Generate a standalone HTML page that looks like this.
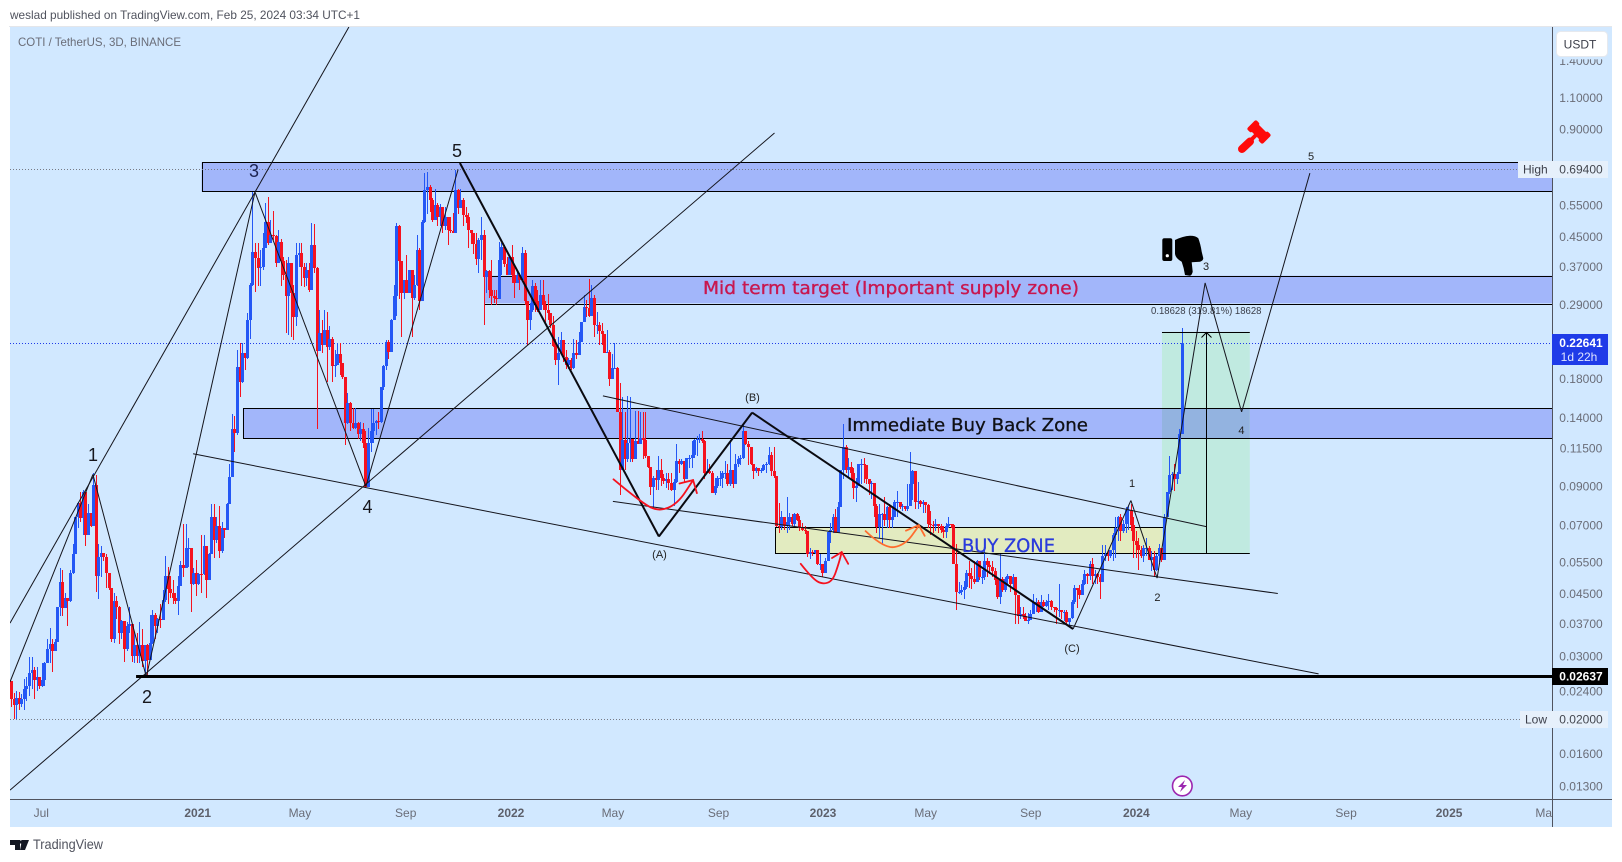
<!DOCTYPE html>
<html lang="en">
<head>
<meta charset="utf-8">
<title>COTI / TetherUS, 3D, BINANCE</title>
<style>
html,body{margin:0;padding:0;background:#fff;width:1622px;height:862px;overflow:hidden}
svg{display:block}
text{font-family:"Liberation Sans",sans-serif}
.dj{font-family:"DejaVu Sans",sans-serif}
</style>
</head>
<body>
<svg id="chart" xmlns="http://www.w3.org/2000/svg" width="1622" height="862" viewBox="0 0 1622 862">
  <defs><clipPath id="plot-clip"><rect x="10" y="27" width="1542" height="772"/></clipPath></defs>
  <rect x="0" y="0" width="1622" height="862" fill="#ffffff"/>
  <text x="10" y="19" font-size="12" fill="#50535e" textLength="350" lengthAdjust="spacingAndGlyphs">weslad published on TradingView.com, Feb 25, 2024 03:34 UTC+1</text>
  <rect x="10" y="27" width="1602" height="800" fill="#d1e8ff"/>
  <line x1="9" y1="26.5" x2="1612" y2="26.5" stroke="#e4e6ea"/>
  <g id="zones" clip-path="url(#plot-clip)"></g>
  <g id="dotted" clip-path="url(#plot-clip)"></g>
  <g id="candles" clip-path="url(#plot-clip)"></g>
  <g id="drawings" clip-path="url(#plot-clip)"></g>

  <text x="18" y="46" font-size="12" fill="#6a6d78" textLength="163" lengthAdjust="spacingAndGlyphs">COTI / TetherUS, 3D, BINANCE</text>

  <text class="dj" x="703" y="294" font-size="18" fill="#c8174f" stroke="#c8174f" stroke-width=".35" textLength="376" lengthAdjust="spacingAndGlyphs">Mid term target (Important supply zone)</text>
  <text class="dj" x="847" y="431" font-size="18" fill="#101014" stroke="#101014" stroke-width=".3" textLength="241" lengthAdjust="spacingAndGlyphs">Immediate Buy Back Zone</text>
  <text class="dj" x="962" y="552" font-size="19" fill="#2a3bdc" stroke="#2a3bdc" stroke-width=".3" textLength="93" lengthAdjust="spacingAndGlyphs">BUY ZONE</text>

  <g font-size="18" fill="#16161c" text-anchor="middle">
    <text x="93" y="461">1</text>
    <text x="147" y="703">2</text>
    <text x="254" y="177" fill="#1c2250">3</text>
    <text x="367.5" y="513">4</text>
    <text x="457" y="157">5</text>
  </g>
  <g font-size="11" fill="#222" text-anchor="middle">
    <text x="659.5" y="558">(A)</text>
    <text x="752.5" y="401">(B)</text>
    <text x="1072" y="652">(C)</text>
    <text x="1132" y="487">1</text>
    <text x="1157.4" y="601">2</text>
    <text x="1206" y="270">3</text>
    <text x="1241.4" y="434">4</text>
    <text x="1311" y="160">5</text>
  </g>
  <text x="1151" y="314" font-size="10" fill="#3a3d48" textLength="110.5" lengthAdjust="spacingAndGlyphs">0.18628 (319.81%) 18628</text>

  <g fill="#ff0a0a" stroke="#ff0a0a" stroke-linejoin="round">
    <line x1="1242" y1="149" x2="1250" y2="141.5" stroke-width="8" stroke-linecap="round"/>
    <line x1="1249" y1="142" x2="1257" y2="134" stroke-width="4"/>
    <rect x="-10" y="-4.5" width="20" height="9" rx="1" stroke-width="1" transform="translate(1259 132) rotate(45)"/>
    <rect x="-11" y="-6.5" width="6" height="13" rx="2" stroke-width="0" transform="translate(1259 132) rotate(45)"/>
    <rect x="5" y="-6.5" width="6" height="13" rx="2" stroke-width="0" transform="translate(1259 132) rotate(45)"/>
  </g>
  <g fill="#000">
    <rect x="1162.3" y="238.3" width="10" height="22.7" rx="2"/>
    <circle cx="1167.3" cy="255.7" r="1.6" fill="#fff"/>
    <path d="M1175 240 Q1183 236 1190 235.7 Q1196 235.7 1198.3 238.3 Q1200.5 244 1201.7 251.7 L1203.3 258.3 Q1203 261 1200 261.7 L1191.7 262.3 L1192.7 271.7 Q1192 275 1190 275.7 L1185 275 Q1184 268 1181.7 261.7 Q1175 258 1175 253.3 Z"/>
  </g>
  <g>
    <circle cx="1182.3" cy="786" r="9.8" fill="#fff" stroke="#9c27b0" stroke-width="1.6"/>
    <path d="M1185 780 L1178 787 L1182 787 L1180 792 L1187 785 L1183 785 Z" fill="#9c27b0"/>
  </g>

  <line x1="1552.5" y1="27" x2="1552.5" y2="827" stroke="#50535e"/>
  <line x1="10" y1="799.5" x2="1612" y2="799.5" stroke="#50535e"/>
  <g id="yticks"></g>
  <g id="xticks" clip-path="url(#x-clip)"></g>
  <clipPath id="x-clip"><rect x="10" y="800" width="1542" height="27"/></clipPath>

  <g>
    <rect x="1554" y="28" width="57" height="31.3" fill="#d1e8ff"/>
    <rect x="1556.5" y="31.5" width="51" height="25" rx="4" fill="#ffffff" stroke="#e6e9ee"/>
    <text x="1580" y="48.5" font-size="12" fill="#3c3f4a" text-anchor="middle">USDT</text>
  </g>
  <g>
    <rect x="1518" y="161" width="90" height="17" fill="#e6f0fb"/>
    <text x="1523" y="173.5" font-size="12" fill="#3c3f4a">High</text>
    <text x="1581" y="173.5" font-size="12" fill="#44474f" text-anchor="middle">0.69400</text>
  </g>
  <g>
    <rect x="1520" y="711" width="88" height="17" fill="#e6f0fb"/>
    <text x="1525" y="723.5" font-size="12" fill="#3c3f4a">Low</text>
    <text x="1581" y="723.5" font-size="12" fill="#44474f" text-anchor="middle">0.02000</text>
  </g>
  <g>
    <rect x="1552" y="334" width="56" height="31" fill="#1f3be8"/>
    <text x="1581" y="347" font-size="12" font-weight="700" fill="#fff" text-anchor="middle">0.22641</text>
    <text x="1579" y="361" font-size="12" fill="#dfe4ff" text-anchor="middle">1d 22h</text>
  </g>
  <g>
    <rect x="1552" y="668" width="56" height="17" fill="#000"/>
    <text x="1581" y="680.5" font-size="12" font-weight="700" fill="#fff" text-anchor="middle">0.02637</text>
  </g>

  <g>
    <path d="M10 840 H20 V850 H15 V845 H10 Z M22 840 H29 L25 850 H20 Z" fill="#131722"/>
    <circle cx="21.5" cy="842" r="1.8" fill="#131722"/>
    <text x="33" y="849" font-size="14" fill="#50535e" textLength="70" lengthAdjust="spacingAndGlyphs">TradingView</text>
  </g>
</svg>
<script>
const firstOpen = .0256;
const closes = [
.0228,.0220,.0230,.0221,.0228,.0243,.0248,.0270,.0275,.0257,
.0262,.0248,.0257,.0288,.0315,.0325,.0310,.0330,.0412,.0485,
.0410,.0437,.0428,.0515,.0580,.0735,.0805,.0732,.0868,.0655,
.0755,.0695,.0905,.0505,.0570,.0585,.0570,.0515,.0465,.0335,
.0428,.0412,.0350,.0377,.0315,.0366,.0370,.0301,.0322,.0301,
.0322,.0292,.0322,.0294,.0328,.0391,.0366,.0383,.0380,.0432,
.0505,.0462,.0452,.0437,.0430,.0473,.0542,.0530,.0604,.0605,
.0478,.0514,.0478,.0512,.0510,.0612,.0491,.0580,.0735,.0634,
.0695,.0593,.0688,.0680,.0802,.0955,.130,.127,.194,.176,
.212,.205,.263,.329,.407,.391,.367,.370,.417,.494,
.431,.455,.452,.379,.434,.383,.351,.306,.379,.312,
.268,.399,.405,.370,.344,.363,.319,.426,.367,.215,
.241,.224,.246,.220,.233,.195,.197,.211,.199,.182,
.135,.154,.135,.131,.135,.126,.130,.119,.0895,.119,
.128,.135,.137,.136,.170,.195,.228,.214,.263,.306,
.480,.383,.312,.340,.312,.363,.302,.329,.412,.296,
.494,.607,.620,.568,.500,.551,.510,.544,.480,.510,
.470,.465,.460,.607,.540,.570,.516,.510,.469,.460,
.430,.390,.440,.454,.346,.360,.319,.306,.302,.300,
.387,.420,.378,.350,.393,.350,.333,.350,.340,.405,
.296,.263,.280,.328,.296,.280,.309,.290,.280,.275,
.255,.222,.203,.212,.231,.207,.197,.203,.193,.212,
.210,.228,.260,.285,.283,.270,.303,.255,.255,.244,
.240,.212,.213,.180,.193,.193,.145,.100,.121,.107,
.119,.122,.107,.120,.118,.123,.121,.109,.102,.0895,
.0945,.0935,.100,.0945,.093,.094,.092,.088,.0925,.106,
.104,.106,.094,.108,.108,.110,.121,.122,.122,.120,
.098,.099,.098,.086,.090,.095,.095,.098,.098,.091,
.100,.091,.104,.107,.108,.128,.118,.116,.104,.099,
.101,.099,.100,.103,.104,.110,.099,.096,.0695,.069,
.0735,.0695,.0715,.0735,.0705,.075,.0725,.0685,.068,.0675,
.058,.059,.0585,.0595,.0545,.0545,.0515,.0555,.067,.068,
.0735,.0665,.0785,.100,.116,.100,.102,.098,.089,.090,
.104,.104,.103,.094,.091,.092,.079,.069,.075,.075,
.0725,.0785,.0725,.0735,.081,.081,.0785,.079,.0775,.079,
.091,.099,.081,.0815,.080,.081,.0795,.0705,.070,.0695,
.0705,.0695,.068,.067,.0695,.0705,.0702,.0545,.0455,.0455,
.046,.047,.0515,.0505,.0495,.0485,.0555,.050,.050,.0555,
.054,.0535,.052,.049,.044,.0495,.046,.0495,.0505,.048,
.050,.0445,.039,.0395,.039,.0378,.038,.0395,.0425,.0425,
.040,.0425,.0415,.0425,.043,.0412,.041,.0405,.0405,.040,
.040,.0375,.0385,.0425,.0465,.046,.0445,.048,.051,.0505,
.0545,.0505,.051,.050,.0485,.0575,.058,.0575,.0595,.0655,
.0685,.0735,.0675,.0705,.077,.077,.070,.063,.0615,.0595,
.0575,.0605,.0605,.056,.057,.0525,.0575,.0605,.056,.0735,
.0865,.0965,.097,.094,.0975,.126,.2264];
const highs = [
.0256,.0237,.0240,.0238,.0235,.0259,.0262,.0299,.0299,.0280,
.0280,.0262,.0288,.0290,.0335,.036,.0335,.0335,.0412,.053,
.0525,.0452,.0437,.0525,.0618,.0737,.0812,.0868,.0878,.0868,
.080,.0755,.098,.0965,.0618,.061,.0585,.0582,.0515,.0465,
.0452,.0442,.0415,.038,.0377,.0375,.0412,.037,.0352,.035,
.0375,.0359,.0322,.0325,.0391,.0404,.0397,.0385,.042,.046,
.0575,.0535,.0505,.049,.0452,.0505,.0555,.0705,.0705,.0645,
.0605,.053,.056,.0515,.0655,.0655,.0612,.0585,.080,.080,
.0737,.079,.0712,.0675,.0805,.104,.143,.141,.217,.227,
.227,.211,.274,.333,.600,.431,.431,.412,.461,.558,
.58,.50,.53,.454,.469,.444,.395,.387,.395,.379,
.329,.431,.431,.431,.379,.379,.379,.490,.488,.370,
.28,.263,.28,.276,.252,.236,.217,.227,.227,.199,
.182,.164,.155,.149,.149,.136,.136,.135,.128,.131,
.148,.148,.138,.145,.171,.197,.231,.231,.265,.329,
.49,.484,.383,.34,.399,.363,.363,.351,.454,.417,
.50,.677,.684,.627,.575,.61,.557,.555,.522,.545,
.51,.51,.522,.691,.613,.613,.575,.545,.522,.47,
.46,.46,.445,.51,.47,.363,.363,.387,.319,.319,
.435,.431,.426,.395,.399,.426,.37,.36,.356,.42,
.412,.297,.293,.34,.333,.319,.34,.34,.297,.31,
.27,.27,.233,.236,.243,.231,.217,.205,.205,.233,
.231,.243,.26,.308,.299,.342,.329,.308,.276,.26,
.257,.24,.246,.217,.211,.227,.194,.175,.16,.145,
.161,.16,.122,.146,.146,.145,.145,.145,.109,.102,
.096,.10,.109,.107,.097,.098,.098,.098,.094,.118,
.107,.107,.104,.108,.11,.12,.122,.124,.126,.128,
.121,.107,.104,.099,.095,.096,.099,.099,.106,.104,
.121,.099,.111,.109,.11,.134,.128,.12,.116,.104,
.102,.101,.101,.104,.105,.116,.112,.116,.096,.0805,
.0765,.0735,.084,.0755,.075,.0755,.0755,.074,.071,.0695,
.0675,.0605,.0595,.0595,.0595,.058,.0545,.0565,.0675,.071,
.075,.0775,.081,.10,.134,.117,.108,.105,.101,.095,
.104,.107,.108,.103,.094,.093,.092,.08,.08,.0755,
.084,.079,.08,.0785,.0825,.087,.081,.08,.079,.091,
.112,.10,.099,.0925,.0825,.0825,.0805,.08,.0765,.072,
.073,.0705,.0705,.0695,.071,.0735,.0705,.0705,.062,.0485,
.0475,.0487,.0525,.0555,.053,.0555,.056,.0555,.0525,.0605,
.0565,.0555,.0555,.053,.0495,.058,.05,.05,.051,.05,
.051,.05,.0445,.0412,.0412,.0397,.0397,.0405,.045,.0437,
.0432,.0445,.0432,.0432,.045,.0432,.0412,.0412,.048,.0405,
.0405,.0405,.0385,.0432,.0475,.0465,.0475,.049,.0525,.0515,
.0555,.0565,.0525,.0515,.051,.0615,.0615,.0592,.0597,.0665,
.0735,.074,.075,.0722,.0785,.079,.08,.0735,.0675,.0645,
.061,.0615,.0645,.061,.0592,.0592,.058,.062,.0605,.075,
.0868,.109,.0985,.104,.0985,.13,.250];
const lows = [
.0216,.0200,.0200,.0213,.0217,.0213,.0225,.0232,.0243,.0228,
.024,.0243,.0247,.0248,.0288,.0288,.0272,.031,.033,.039,
.039,.042,.0365,.0425,.0512,.058,.0688,.0712,.0655,.061,
.0705,.069,.0785,.0455,.0435,.05,.0555,.0465,.046,.033,
.0328,.0382,.0325,.0335,.029,.031,.035,.029,.0288,.0288,
.0288,.028,.0263,.0263,.0294,.0325,.0335,.035,.036,.0385,
.0425,.042,.0437,.042,.042,.0392,.0475,.05,.053,.0535,
.040,.0475,.0442,.0475,.0452,.0508,.0437,.049,.0605,.0565,
.0625,.0565,.0585,.0645,.0688,.08,.0955,.112,.125,.160,
.175,.19,.204,.233,.327,.315,.327,.327,.363,.417,
.426,.431,.44,.37,.379,.327,.34,.242,.239,.236,
.231,.253,.37,.326,.325,.326,.315,.319,.355,.130,
.215,.212,.224,.176,.217,.176,.182,.197,.184,.18,
.117,.134,.128,.13,.13,.122,.12,.115,.089,.091,
.112,.119,.125,.13,.135,.167,.19,.204,.214,.263,
.27,.30,.235,.30,.315,.312,.236,.298,.326,.28,
.296,.49,.52,.528,.495,.51,.48,.48,.46,.47,
.426,.46,.46,.462,.52,.54,.48,.49,.417,.43,
.402,.375,.356,.387,.254,.312,.302,.289,.293,.289,
.302,.351,.37,.351,.351,.333,.302,.333,.319,.34,
.289,.224,.246,.277,.277,.277,.28,.28,.26,.263,
.25,.22,.197,.173,.21,.2,.192,.192,.19,.192,
.204,.217,.228,.26,.268,.268,.27,.236,.24,.224,
.224,.212,.212,.172,.179,.193,.145,.085,.10,.10,
.105,.105,.105,.107,.119,.119,.107,.108,.101,.085,
.0785,.088,.088,.09,.091,.089,.088,.087,.079,.092,
.098,.103,.092,.094,.101,.101,.108,.109,.119,.119,
.094,.098,.097,.086,.085,.089,.09,.089,.094,.09,
.09,.089,.094,.102,.103,.107,.117,.103,.103,.094,
.098,.096,.098,.099,.098,.103,.096,.095,.069,.0665,
.068,.068,.0665,.068,.0695,.0695,.072,.0675,.0675,.066,
.057,.0563,.0572,.058,.054,.0525,.05,.0515,.0555,.0625,
.0665,.0665,.068,.0785,.094,.098,.095,.094,.083,.081,
.09,.091,.0915,.091,.085,.083,.0735,.0665,.0645,.0615,
.0695,.0685,.0688,.0688,.0735,.0737,.0775,.0765,.0765,.0765,
.079,.082,.0775,.0775,.0785,.0755,.0755,.0685,.0655,.0665,
.0675,.0665,.0665,.0645,.0645,.0685,.0688,.0545,.0405,.045,
.0445,.0435,.0462,.0467,.0462,.048,.0486,.0492,.048,.049,
.05,.051,.05,.0475,.0435,.042,.0455,.0455,.048,.0455,
.0465,.037,.037,.0383,.0383,.0376,.037,.038,.04,.04,
.0398,.0405,.0412,.0412,.0405,.0405,.04,.037,.0387,.0383,
.0378,.0367,.0367,.0383,.042,.041,.0435,.0447,.0475,.048,
.049,.048,.048,.048,.0435,.0485,.0555,.0555,.0565,.0555,
.0565,.063,.063,.0665,.0665,.068,.0675,.0565,.0565,.0525,
.0565,.055,.0575,.056,.052,.05,.052,.055,.055,.0605,
.0735,.0855,.088,.087,.091,.0975,.126];

const priceTicks = [1.4,1.1,.9,.55,.45,.37,.29,.18,.14,.115,.09,.07,.055,.045,.037,.03,.024,.016,.013];
const priceTickLabels = ["1.40000","1.10000","0.90000","0.55000","0.45000","0.37000","0.29000","0.18000","0.14000","0.11500","0.09000","0.07000","0.05500","0.04500","0.03700","0.03000","0.02400","0.01600","0.01300"];
const timeTickBars = [11.8,72.7,112.5,153.7,194.7,234.4,275.5,316.2,356.2,397.1,438.2,478.9,519.9,560,598];
const timeTickLabels = ["Jul","2021","May","Sep","2022","May","Sep","2023","May","Sep","2024","May","Sep","2025","May"];
const highPrice = .694;
const lowPrice = .02;
const lastPrice = .22641;
const supportPrice = .02637;
const supportStartBar = 48.7;

/* Zones: [start bar, end bar, top price, bottom price] */
const highZone = [74.2,700,.726,.6007];
const midZone = [184.2,700,.3494,.2925];
const buyBackZone = [90.3,700,.1486,.1227];
const buyZone = [297.5,448.3,.0690,.0583];
const longPosition = [448.2,482.4,.2435,.0583];
const longPositionMidBar = 465.5;

/* Drawing-tool lines: [bar, price] anchors */
const thinLines = [
 [[-.39,.0372],[131.6,1.737]],
 [[-.39,.02546],[31.9,.097]],
 [[31.9,.097],[52.7,.0263]],
 [[52.7,.0263],[95,.599]],
 [[95,.599],[138.2,.0898]],
 [[138.2,.0898],[174.1,.693]],
 [[-.39,.01267],[297.3,.877]],
 [[70.9,.1108],[509.2,.0268]],
 [[234.4,.0815],[493.3,.045]],
 [[230.5,.161],[465.7,.0692]],
 [[413.6,.0358],[436.1,.082]],
 [[436.1,.082],[446.3,.0497]],
 [[446.3,.0497],[465,.3335]],
 [[465,.3335],[479.2,.1452]],
 [[479.2,.1452],[505.8,.677]]
];
const thickLines = [
 [[174.8,.723],[252.3,.065]],
 [[252.3,.065],[288.6,.1445]],
 [[288.6,.1445],[413.6,.0358]]
];
const redCurveOne = [[234.6,.094],[244.9,.0815],[252.3,.0762],[259.7,.0805],[265.6,.0935]];
const redArrowOne = [[260.3,.0915],[265.6,.0935],[267.1,.086]];
const redCurveTwo = [[307.5,.0545],[311.9,.0497],[316,.0477],[320,.0488],[322.4,.0548],[323.5,.0588]];
const redArrowTwo = [[319.7,.0566],[323.5,.0588],[326,.0545]];
const orangeCurve = [[332.8,.0673],[340.1,.06],[348.1,.0615],[353.5,.0696]];
const orangeArrow = [[348.5,.0675],[353.5,.0699],[355.8,.0653]];

const NS = 'http://www.w3.org/2000/svg';
const UP = '#2457f5';
const DOWN = '#f5121f';
function xOf(bar){ return 11 + 2.568 * bar; }
function yOf(price){ return 169.3 + 155.07 * Math.log(.694 / price); }
function make(tag, attrs, parent){
  const el = document.createElementNS(NS, tag);
  for (const k in attrs) el.setAttribute(k, attrs[k]);
  parent.appendChild(el);
  return el;
}

/* zones */
const zonesG = document.getElementById('zones');
function zoneBox(z){
  const right = Math.min(xOf(z[1]), 1552);
  return {x: xOf(z[0]), y: yOf(z[2]), w: right - xOf(z[0]), h: yOf(z[3]) - yOf(z[2])};
}
const solidZones = [highZone, midZone, buyBackZone];
solidZones.forEach(function(z){
  const b = zoneBox(z);
  const r = make('rect', {x:b.x, y:b.y, width:b.w, height:b.h, fill:'#a2b6fa'}, zonesG);
  
  
});
const buyBox = zoneBox(buyZone);
const buyRect = make('rect', {x:buyBox.x, y:buyBox.y, width:buyBox.w, height:buyBox.h, fill:'#e2ebc0'}, zonesG);


const posBox = zoneBox(longPosition);
const posRect = make('rect', {x:posBox.x, y:posBox.y, width:posBox.w, height:posBox.h, fill:'#c0eae0'}, zonesG);


const bbBox = zoneBox(buyBackZone);
const overlapRect = make('rect', {x:posBox.x, y:bbBox.y, width:posBox.w, height:bbBox.h, fill:'#93b3e0'}, zonesG);


solidZones.concat([buyZone]).forEach(function(z){
  const b = zoneBox(z);
  const r = make('rect', {x:Math.round(b.x)+.5, y:Math.round(b.y)+.5, width:Math.round(b.w)+2, height:Math.round(b.h), fill:'none', stroke:'#000', 'stroke-width':1}, zonesG);
  
  
});

/* dotted price lines */
const dottedG = document.getElementById('dotted');
const dottedLevels = [[highPrice,'#787b86',1518],[lastPrice,'#1f3be8',1552],[lowPrice,'#787b86',1520]];
dottedLevels.forEach(function(d){
  const l = make('line', {x1:10, x2:d[2], y1:Math.round(yOf(d[0]))+.5, y2:Math.round(yOf(d[0]))+.5, stroke:d[1], 'stroke-width':1, 'stroke-dasharray':'1 2'}, dottedG);
  
  
});

/* candles */
const candlesG = document.getElementById('candles');
closes.forEach(function(close, i){
  const open = i === 0 ? firstOpen : closes[i-1];
  const color = close >= open ? UP : DOWN;
  const cx = Math.round(xOf(i));
  const yH = Math.round(yOf(Math.max(highs[i], open, close)));
  const yL = Math.round(yOf(Math.min(lows[i], open, close)));
  const wick = make('rect', {x:cx, y:yH, width:1, height:Math.max(1, yL-yH), fill:color, 'shape-rendering':'crispEdges'}, candlesG);
  
  
  const yTop = Math.round(yOf(Math.max(open, close)));
  const yBot = Math.round(yOf(Math.min(open, close)));
  const body = make('rect', {x:cx-1, y:yTop, width:3, height:Math.max(1, yBot-yTop), fill:color, 'shape-rendering':'crispEdges'}, candlesG);
  
  
});

/* drawings */
const drawG = document.getElementById('drawings');
function polyPath(pts){
  return pts.map(function(p, i){ return (i ? 'L' : 'M') + xOf(p[0]).toFixed(1) + ' ' + yOf(p[1]).toFixed(1); }).join(' ');
}
function curvePath(pts){
  let d = 'M' + xOf(pts[0][0]).toFixed(1) + ' ' + yOf(pts[0][1]).toFixed(1);
  for (let i = 1; i < pts.length - 1; i++){
    const mx = (xOf(pts[i][0]) + xOf(pts[i+1][0])) / 2;
    const my = (yOf(pts[i][1]) + yOf(pts[i+1][1])) / 2;
    d += ' Q' + xOf(pts[i][0]).toFixed(1) + ' ' + yOf(pts[i][1]).toFixed(1) + ' ' + mx.toFixed(1) + ' ' + my.toFixed(1);
  }
  const e = pts[pts.length-1];
  d += ' L' + xOf(e[0]).toFixed(1) + ' ' + yOf(e[1]).toFixed(1);
  return d;
}
thinLines.forEach(function(pts){
  const p = make('path', {d:polyPath(pts), fill:'none', stroke:'#14141c', 'stroke-width':1}, drawG);
  
  
});
thickLines.forEach(function(pts){
  const p = make('path', {d:polyPath(pts), fill:'none', stroke:'#0a0a10', 'stroke-width':2}, drawG);
  
  
});
const supportY = Math.round(yOf(supportPrice)) + .5;
const supportLine = make('line', {x1:xOf(supportStartBar), x2:1552, y1:supportY, y2:supportY, stroke:'#000', 'stroke-width':3}, drawG);



const posTopY = Math.round(yOf(longPosition[2])) + .5;
const posBotY = Math.round(yOf(longPosition[3])) + .5;
const posTop = make('line', {x1:posBox.x, x2:posBox.x+posBox.w, y1:posTopY, y2:posTopY, stroke:'#000'}, drawG);


const posBot = make('line', {x1:posBox.x, x2:posBox.x+posBox.w, y1:posBotY, y2:posBotY, stroke:'#000'}, drawG);


const midX = Math.round(xOf(longPositionMidBar)) + .5;
const posMid = make('line', {x1:midX, x2:midX, y1:posTopY, y2:posBotY, stroke:'#000'}, drawG);


const posArrow = make('path', {d:'M'+(midX-5)+' '+(posTopY+5)+' L'+midX+' '+posTopY+' L'+(midX+5)+' '+(posTopY+5), fill:'none', stroke:'#000'}, drawG);



const handDrawn = [
  [redCurveOne, redArrowOne, '#f5121f'],
  [redCurveTwo, redArrowTwo, '#f5121f'],
  [orangeCurve, orangeArrow, '#ff6d2e']
];
handDrawn.forEach(function(h){
  const c = make('path', {d:curvePath(h[0]), fill:'none', stroke:h[2], 'stroke-width':1.8, 'stroke-linecap':'round'}, drawG);
  
  
  const a = make('path', {d:polyPath(h[1]), fill:'none', stroke:h[2], 'stroke-width':1.8, 'stroke-linecap':'round'}, drawG);
  
  
});

/* axes */
const yG = document.getElementById('yticks');
priceTicks.forEach(function(p, i){
  const t = make('text', {x:1581, y:(yOf(p)+4.3).toFixed(1), 'font-size':12, fill:'#6a6d78', 'text-anchor':'middle'}, yG);
  
  
  t.textContent = priceTickLabels[i];
});
const xG = document.getElementById('xticks');
timeTickBars.forEach(function(b, i){
  const isYear = /^\d/.test(timeTickLabels[i]);
  const t = make('text', {x:xOf(b).toFixed(1), y:817, 'font-size':12, fill:isYear ? '#5d606b' : '#6a6d78', 'text-anchor':'middle', 'font-weight':isYear ? 700 : 400}, xG);
  
  
  t.textContent = timeTickLabels[i];
});
</script>
</body>
</html>
